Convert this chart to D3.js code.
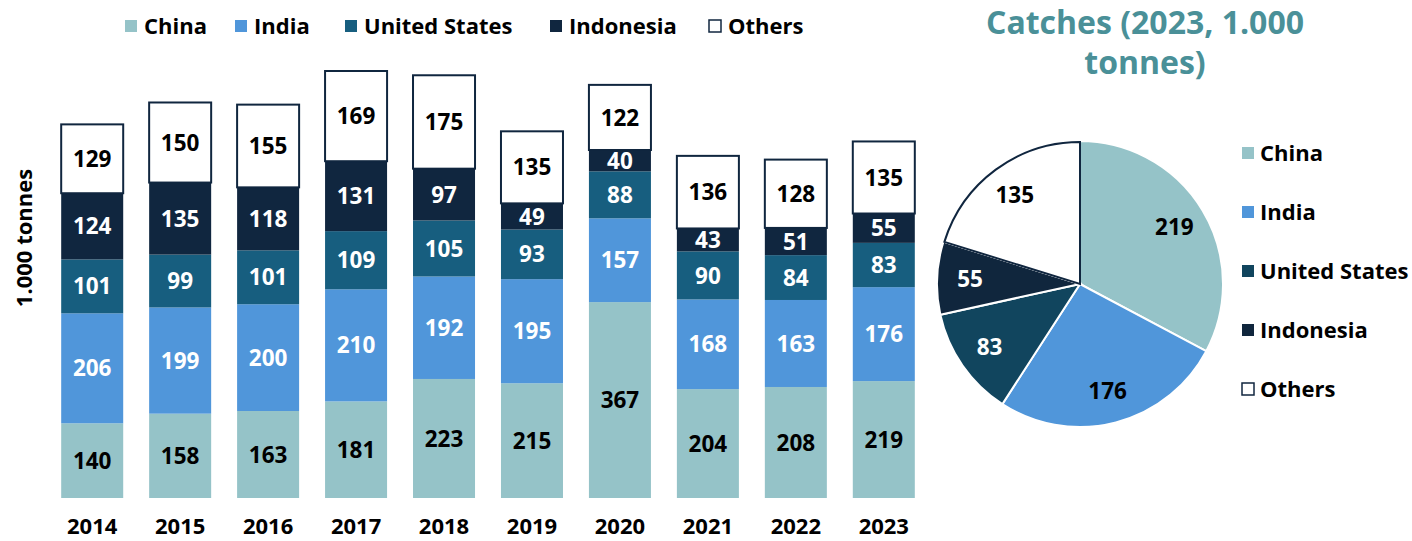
<!DOCTYPE html>
<html>
<head>
<meta charset="utf-8">
<script src="https://cdn.jsdelivr.net/npm/d3@7"></script>
<style>
  body { margin: 0; background: #fff; }
  svg text { font-family: "Open Sans", "DejaVu Sans", sans-serif; font-weight: 700; }
</style>
</head>
<body>
<svg id="chart" width="1412" height="541"></svg>
<script>
// data (1.000 tonnes)
var years = ['2014', '2015', '2016', '2017', '2018', '2019', '2020', '2021', '2022', '2023'];
var series = ['China', 'India', 'United States', 'Indonesia', 'Others'];
var china = [140, 158, 163, 181, 223, 215, 367, 204, 208, 219];
var india = [206, 199, 200, 210, 192, 195, 157, 168, 163, 176];
var unitedStates = [101, 99, 101, 109, 105, 93, 88, 90, 84, 83];
var indonesia = [124, 135, 118, 131, 97, 49, 40, 43, 51, 55];
var others = [129, 150, 155, 169, 175, 135, 122, 136, 128, 135];
var pieValues = [219, 176, 83, 55, 135];

var colors = ['#95c3c8', '#5096da', '#175e7f', '#10263f', '#ffffff'];
var pieColors = ['#95c3c8', '#5096da', '#11455e', '#10263d', '#ffffff'];
var labelColors = ['#000', '#fff', '#fff', '#fff', '#000'];
var pieLabelColors = ['#000', '#000', '#fff', '#fff', '#000'];
var outline = '#10263f';

var svg = d3.select('#chart');

// bar chart
var rows = years.map(function(y, i) {
  return { year: y, 'China': china[i], 'India': india[i], 'United States': unitedStates[i],
           'Indonesia': indonesia[i], 'Others': others[i] };
});
var stack = d3.stack().keys(series)(rows);

var x = d3.scaleBand().domain(years).range([48, 928]).paddingInner(0.295).paddingOuter(0.15);
var y = d3.scaleLinear().domain([0, 800]).range([498, 71]);

var layers = svg.selectAll('.layer')
  .data(stack)
  .enter().append('g')
  .attr('class', 'layer');

layers.selectAll('rect')
  .data(function(d) { return d; })
  .enter().append('rect')
  .attr('x', function(d) { return x(d.data.year); })
  .attr('y', function(d) { return y(d[1]); })
  .attr('width', x.bandwidth())
  .attr('height', function(d) { return y(d[0]) - y(d[1]); })
  .style('fill', function(d) { return colors[series.indexOf(d3.select(this.parentNode).datum().key)]; })
  .style('stroke', function(d) { return d3.select(this.parentNode).datum().key === 'Others' ? outline : 'none'; })
  .style('stroke-width', 2);

layers.selectAll('text')
  .data(function(d) { return d; })
  .enter().append('text')
  .attr('x', function(d) { return x(d.data.year) + x.bandwidth() / 2; })
  .attr('y', function(d) { return (y(d[0]) + y(d[1])) / 2; })
  .attr('dy', '0.36em')
  .attr('text-anchor', 'middle')
  .style('font-size', '22.5px')
  .style('fill', function() { return labelColors[series.indexOf(d3.select(this.parentNode).datum().key)]; })
  .text(function(d) { return d[1] - d[0]; });

// x axis labels
svg.append('g')
  .attr('class', 'xLabels')
  .selectAll('text')
  .data(years)
  .enter().append('text')
  .attr('x', function(d) { return x(d) + x.bandwidth() / 2; })
  .attr('y', 534)
  .attr('text-anchor', 'middle')
  .style('font-size', '22px')
  .style('fill', '#000')
  .text(function(d) { return d; });

svg.append('text')
  .attr('transform', 'translate(32,238) rotate(-90)')
  .attr('text-anchor', 'middle')
  .style('font-size', '22px')
  .text('1.000 tonnes');

// top legend
var legendX = [124, 234, 344, 549, 708];
var legend = svg.selectAll('.legendEntry')
  .data(series)
  .enter().append('g')
  .attr('class', 'legendEntry')
  .attr('transform', function(d, i) { return 'translate(' + legendX[i] + ',26)'; });

legend.append('rect')
  .attr('x', 1).attr('y', -6)
  .attr('width', 12).attr('height', 12)
  .style('fill', function(d, i) { return colors[i]; })
  .style('stroke', function(d) { return d === 'Others' ? outline : 'none'; })
  .style('stroke-width', 1.5);

legend.append('text')
  .attr('x', 20)
  .attr('dy', '0.35em')
  .style('font-size', '22px')
  .text(function(d) { return d; });

// pie chart
var title = svg.append('text')
  .attr('text-anchor', 'middle')
  .style('font-size', '32px')
  .style('fill', '#4a9098');
title.append('tspan').attr('x', 1145).attr('y', 34).text('Catches (2023, 1.000');
title.append('tspan').attr('x', 1145).attr('y', 74).text('tonnes)');

var pieData = d3.pie().sort(null)(pieValues);
var r = 143;
var arc = d3.arc().innerRadius(0).outerRadius(r);
var labelArc = d3.arc().innerRadius(r * 0.77).outerRadius(r * 0.77);

var pieG = svg.append('g').attr('transform', 'translate(1080,284)');

pieG.selectAll('path')
  .data(pieData)
  .enter().append('path')
  .attr('d', arc)
  .style('fill', function(d, i) { return pieColors[i]; })
  .style('stroke', '#fff')
  .style('stroke-width', 2);

// dark outline on the Others slice
pieG.append('path')
  .datum(pieData[4])
  .attr('d', d3.arc().innerRadius(0).outerRadius(r - 1))
  .style('fill', 'none')
  .style('stroke', outline)
  .style('stroke-width', 2);

pieG.selectAll('.pieLabel')
  .data(pieData)
  .enter().append('text')
  .attr('class', 'pieLabel')
  .attr('transform', function(d) { return 'translate(' + labelArc.centroid(d) + ')'; })
  .attr('dy', '0.36em')
  .attr('text-anchor', 'middle')
  .style('font-size', '22.5px')
  .style('fill', function(d, i) { return pieLabelColors[i]; })
  .text(function(d) { return d.value; });

var pieLegend = svg.selectAll('.pieLegend')
  .data(series)
  .enter().append('g')
  .attr('class', 'pieLegend')
  .attr('transform', function(d, i) { return 'translate(1241,' + (153 + i * 59) + ')'; });

pieLegend.append('rect')
  .attr('x', 1).attr('y', -6)
  .attr('width', 12).attr('height', 12)
  .style('fill', function(d, i) { return pieColors[i]; })
  .style('stroke', function(d) { return d === 'Others' ? outline : 'none'; })
  .style('stroke-width', 1.5);

pieLegend.append('text')
  .attr('x', 19)
  .attr('dy', '0.35em')
  .style('font-size', '22px')
  .text(function(d) { return d; });
</script>
</body>
</html>
